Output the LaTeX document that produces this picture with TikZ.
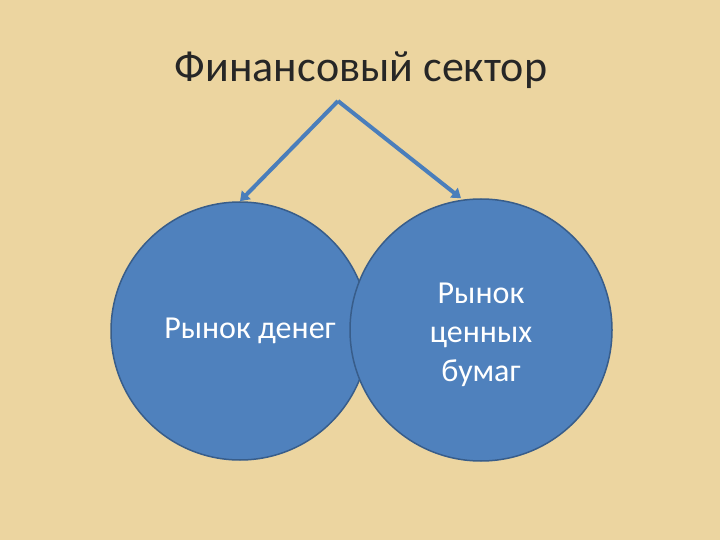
\documentclass[tikz,border=0pt]{standalone}
\usepackage{fontspec}
\setmainfont{Carlito}
\usetikzlibrary{arrows.meta}
\definecolor{bgc}{RGB}{236,213,160}
\definecolor{circfill}{RGB}{79,129,189}
\definecolor{circline}{RGB}{56,93,138}
\definecolor{arrc}{RGB}{74,126,187}
\tikzset{
  bubble/.style={circle,fill=circfill,draw=circline,line width=1.5pt,minimum size=258pt,inner sep=0pt,text=white,font=\fontsize{32}{39}\selectfont,align=center},
  link/.style={draw=arrc,line width=4pt,-{Triangle[length=9pt,width=12pt]}}
}
\begin{document}
\begin{tikzpicture}[x=1pt,y=-1pt]
\fill[bgc] (0,0) rectangle (720,540);
\useasboundingbox (0,0) rectangle (720,540);
\node[font=\fontsize{44}{52}\selectfont,text=black!85] (title) at (361,70) {Финансовый сектор};
\coordinate (top) at (338,101);
\node[bubble] (money) at (240,331) {\hspace*{20pt}Рынок денег};
\node[bubble,minimum size=262pt] (sec) at (481,330) {\\[-8pt]Рынок\\ценных\\бумаг};
\draw[link] (top) -- (money.north);
\draw[link] (top) -- (sec.north -| 461,0);
\end{tikzpicture}
\end{document}
